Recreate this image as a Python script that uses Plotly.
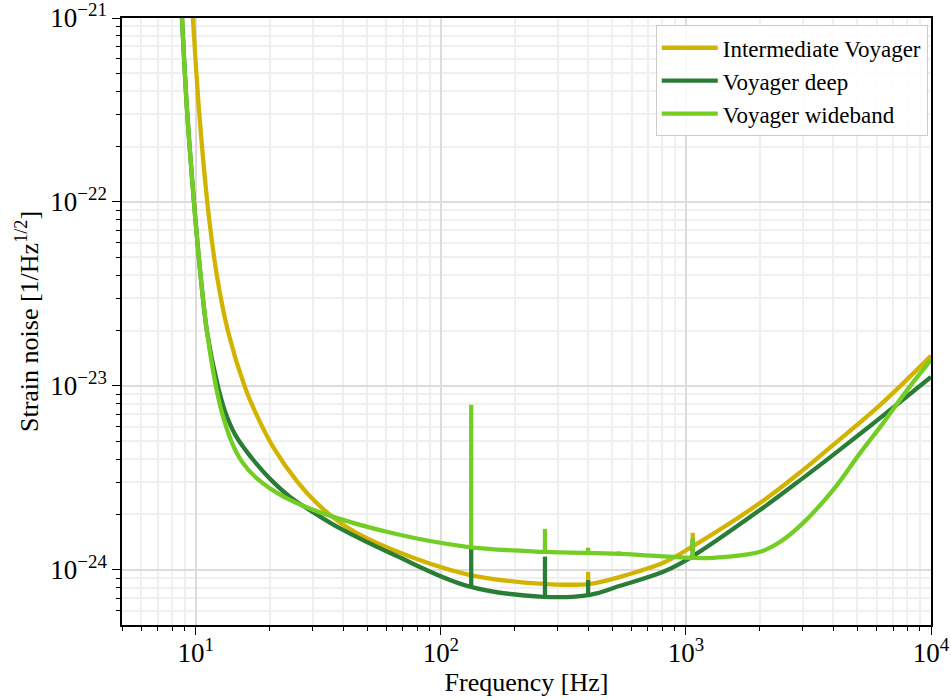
import plotly.graph_objects as go

# ---------------- data ----------------
inter_f = [9.563, 9.745, 10.31, 11.22, 12.21, 13.54, 15.89, 17.78, 20.67, 25.90, 31.25, 41.44,
           62.08, 128.0, 261.4, 406.6, 538.9, 807.5, 1040.7, 2010, 3010, 3990, 6207, 10000]
inter_h = [1.493e-21, 9.753e-22, 3.162e-22, 9.162e-23, 3.937e-23, 1.977e-23, 9.802e-24, 6.871e-24,
           4.661e-24, 3.023e-24, 2.296e-24, 1.700e-24, 1.301e-24, 9.453e-25, 8.393e-25, 8.393e-25,
           9.162e-25, 1.092e-24, 1.317e-24, 2.313e-24, 3.494e-24, 4.779e-24, 7.882e-24, 1.456e-23]

deep_f = [8.627, 8.790, 9.211, 9.837, 10.506, 11.116, 12.324, 13.162, 14.460, 15.888, 17.953,
          20.281, 24.248, 30.671, 38.801, 65.07, 128.0, 261.4, 406.6, 538.9, 807.5, 1040.7,
          2010, 3010, 3990, 6207, 10000]
deep_h = [1.570e-21, 9.753e-22, 3.162e-22, 9.876e-23, 3.768e-23, 1.965e-23, 9.876e-24, 7.269e-24,
          5.450e-24, 4.517e-24, 3.683e-24, 3.084e-24, 2.493e-24, 2.025e-24, 1.679e-24, 1.199e-24,
          8.185e-25, 7.134e-25, 7.314e-25, 8.185e-25, 9.753e-25, 1.162e-24, 2.119e-24, 3.162e-24,
          4.217e-24, 6.699e-24, 1.119e-23]

wide_f = [8.627, 8.790, 9.211, 9.837, 10.506, 11.116, 12.094, 12.796, 14.058, 15.446, 17.953,
          22.708, 32.151, 65.07, 128.0, 261.4, 538.9, 1040.7, 1292, 2010, 2425, 3010, 3990,
          5143, 6207, 8000, 10000]
wide_h = [1.570e-21, 9.753e-22, 3.162e-22, 9.876e-23, 3.768e-23, 1.965e-23, 9.876e-24, 7.134e-24,
          4.899e-24, 3.863e-24, 3.099e-24, 2.506e-24, 2.053e-24, 1.570e-24, 1.334e-24, 1.253e-24,
          1.222e-24, 1.162e-24, 1.162e-24, 1.253e-24, 1.420e-24, 1.800e-24, 2.721e-24, 4.324e-24,
          5.985e-24, 9.512e-24, 1.384e-23]

# narrow calibration lines (frequency, base level, peak level)
inter_spike_f = [399, 1066]
inter_spike_base = [8.4e-25, 1.32e-24]
inter_spike_peak = [9.75e-25, 1.59e-24]

deep_spike_f = [133, 266, 399, 1066]
deep_spike_base = [8.1e-25, 7.1e-25, 7.3e-25, 1.16e-24]
deep_spike_peak = [1.32e-24, 1.18e-24, 8.8e-25, 1.45e-24]

wide_spike_f = [133, 266, 399, 532, 1066]
wide_spike_base = [1.32e-24, 1.25e-24, 1.24e-24, 1.22e-24, 1.16e-24]
wide_spike_peak = [7.9e-24, 1.67e-24, 1.32e-24, 1.26e-24, 1.49e-24]

names = ["Intermediate Voyager", "Voyager deep", "Voyager wideband"]
colors = ["#D2B400", "#2A7D37", "#74CD24"]

x_tickvals = [10, 100, 1000, 10000]
x_ticktext = ["10<sup>1</sup>", "10<sup>2</sup>", "10<sup>3</sup>", "10<sup>4</sup>"]
y_tickvals = [1e-24, 1e-23, 1e-22, 1e-21]
y_ticktext = ["10<sup>\u221224</sup>", "10<sup>\u221223</sup>", "10<sup>\u221222</sup>", "10<sup>\u221221</sup>"]

# ---------------- figure ----------------
fig = go.Figure()

series = [
    (inter_f, inter_h, inter_spike_f, inter_spike_base, inter_spike_peak),
    (deep_f, deep_h, deep_spike_f, deep_spike_base, deep_spike_peak),
    (wide_f, wide_h, wide_spike_f, wide_spike_base, wide_spike_peak),
]

for (f, h, sf, sb, sp), name, col in zip(series, names, colors):
    fig.add_trace(go.Scatter(x=f, y=h, mode="lines", name=name, legendgroup=name,
                             line=dict(color=col, width=4.3, shape="spline", smoothing=1.0)))
    xs, ys = [], []
    for fi, bi, pi in zip(sf, sb, sp):
        xs += [fi, fi, None]
        ys += [bi, pi, None]
    fig.add_trace(go.Scatter(x=xs, y=ys, mode="lines", legendgroup=name, showlegend=False,
                             line=dict(color=col, width=4.3), hoverinfo="skip"))

minor_x = [m * 10 ** e for e in range(0, 4) for m in range(2, 10)]
minor_x = [v for v in minor_x if 5 <= v <= 10000]
minor_y = [m * 10.0 ** e for e in range(-25, -21) for m in range(2, 10)]

serif = "Liberation Serif, Times New Roman, serif"
tick_font = dict(family=serif, size=27, color="black")
title_font = dict(family=serif, size=26, color="black")

fig.update_layout(
    width=951, height=700,
    margin=dict(l=122, r=20, t=18, b=75),
    paper_bgcolor="white", plot_bgcolor="white",
    font=dict(family=serif, size=22, color="black"),
    showlegend=True,
    legend=dict(x=0.996, xanchor="right", y=0.988, yanchor="top",
                bgcolor="rgba(255,255,255,0.85)", bordercolor="#cccccc", borderwidth=1,
                font=dict(family=serif, size=23, color="black"),
                itemwidth=56, tracegroupgap=0),
    xaxis=dict(
        type="log", range=[0.69897, 4.0], automargin=False,
        tickmode="array", tickvals=x_tickvals, ticktext=x_ticktext,
        tickfont=tick_font, ticks="outside", ticklen=8, tickwidth=1.2, tickcolor="black",
        ticklabeloverflow="allow", ticklabelstandoff=-5,
        showgrid=True, gridcolor="#dcdcdc", gridwidth=1.6,
        minor=dict(tickmode="array", tickvals=minor_x, ticks="outside", ticklen=4.5, tickwidth=1,
                   tickcolor="black", showgrid=True, gridcolor="#f0f0f0", gridwidth=1.6),
        showline=True, mirror=True, linecolor="black", linewidth=1.5,
        zeroline=False,
        title=dict(text="Frequency [Hz]", font=title_font, standoff=6),
    ),
    yaxis=dict(
        type="log", range=[-24.3, -21.0], automargin=False,
        tickmode="array", tickvals=y_tickvals, ticktext=y_ticktext,
        tickfont=tick_font, ticks="outside", ticklen=8, tickwidth=1.2, tickcolor="black",
        ticklabeloverflow="allow",
        showgrid=True, gridcolor="#dcdcdc", gridwidth=1.6,
        minor=dict(tickmode="array", tickvals=minor_y, ticks="outside", ticklen=4.5, tickwidth=1,
                   tickcolor="black", showgrid=True, gridcolor="#f0f0f0", gridwidth=1.6),
        showline=True, mirror=True, linecolor="black", linewidth=1.5,
        zeroline=False,
        title=dict(text="Strain noise [1/Hz<sup>1/2</sup>]", font=title_font, standoff=4),
    ),
)

# remove the browser's default 8px page margin so the 951x700 figure fills the window exactly
fig.write_html("out.html", config={"displayModeBar": False},
               post_script="document.body.style.margin='0px';")
